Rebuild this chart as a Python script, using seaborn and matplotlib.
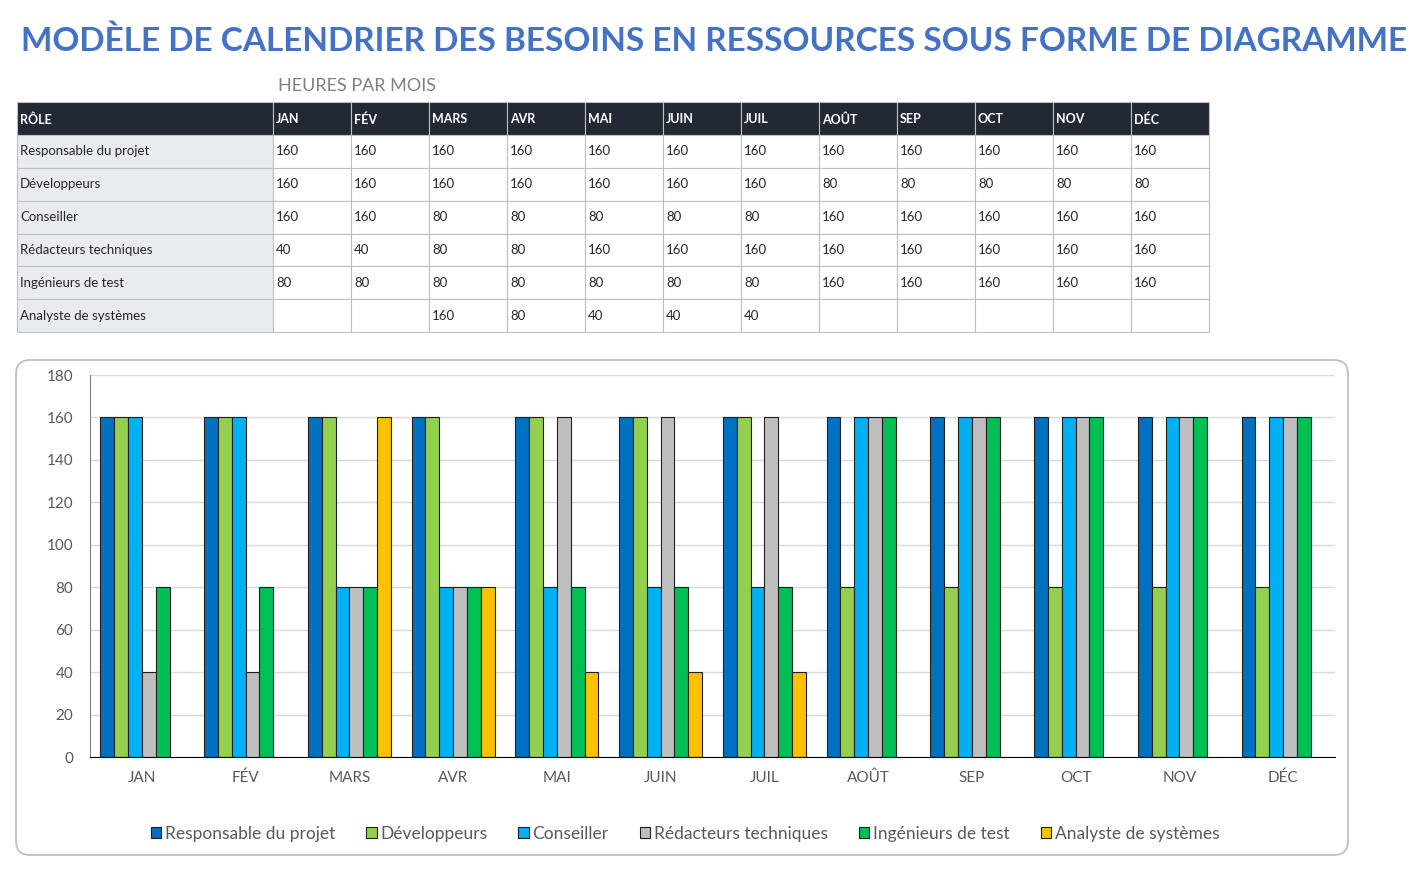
import numpy as np
import pandas as pd
import seaborn as sns
from matplotlib import pyplot as plt
from matplotlib.patches import Rectangle, FancyBboxPatch

months = ["JAN", "FÉV", "MARS", "AVR", "MAI", "JUIN", "JUIL", "AOÛT", "SEP", "OCT", "NOV", "DÉC"]
roles = ["Responsable du projet", "Développeurs", "Conseiller",
         "Rédacteurs techniques", "Ingénieurs de test", "Analyste de systèmes"]
responsable = [160, 160, 160, 160, 160, 160, 160, 160, 160, 160, 160, 160]
developpeurs = [160, 160, 160, 160, 160, 160, 160, 80, 80, 80, 80, 80]
conseiller = [160, 160, 80, 80, 80, 80, 80, 160, 160, 160, 160, 160]
redacteurs = [40, 40, 80, 80, 160, 160, 160, 160, 160, 160, 160, 160]
ingenieurs = [80, 80, 80, 80, 80, 80, 80, 160, 160, 160, 160, 160]
analyste = [None, None, 160, 80, 40, 40, 40, None, None, None, None, None]
colors = ["#0070C0", "#92D050", "#00B0F0", "#BFBFBF", "#00BF55", "#FFC000"]

series = [responsable, developpeurs, conseiller, redacteurs, ingenieurs, analyste]
rows = []
for role, vals in zip(roles, series):
    for m, v in zip(months, vals):
        rows.append({"mois": m, "role": role, "heures": v})
df = pd.DataFrame(rows)

sns.set_style("white")
plt.rcParams['font.family'] = ['Lato', 'DejaVu Sans']

fig = plt.figure(figsize=(14.28, 8.8), dpi=100)

# background layer in pixel coordinates (title, table, chart frame)
bg = fig.add_axes([0, 0, 1, 1])
bg.set_xlim(0, 1428)
bg.set_ylim(880, 0)
bg.axis('off')

bg.text(714, 41, "MODÈLE DE CALENDRIER DES BESOINS EN RESSOURCES SOUS FORME DE DIAGRAMME",
        ha='center', va='center', fontsize=24, fontweight='bold', color='#4472C4')
bg.text(278, 86, "HEURES PAR MOIS", ha='left', va='center', fontsize=13,
        color='#808080')

# table
col_edges = [17] + [273 + 78 * i for i in range(13)]
row_top = 102
row_h = 32.9
header = ["RÔLE"] + months
for j in range(13):
    x0, x1 = col_edges[j], col_edges[j + 1]
    bg.add_patch(Rectangle((x0, row_top), x1 - x0, row_h, facecolor='#222834',
                           edgecolor='#BFBFBF', lw=0.8))
    bg.text(x0 + 3, row_top + row_h / 2 + 1, header[j], ha='left', va='center',
            fontsize=9, fontweight='bold', color='white')
for i, (role, vals) in enumerate(zip(roles, series)):
    y0 = row_top + row_h * (i + 1)
    cells = [role] + ["" if v is None else str(v) for v in vals]
    for j in range(13):
        x0, x1 = col_edges[j], col_edges[j + 1]
        fc = '#E8EBF0' if j == 0 else 'white'
        bg.add_patch(Rectangle((x0, y0), x1 - x0, row_h, facecolor=fc,
                               edgecolor='#BFBFBF', lw=0.8))
        bg.text(x0 + 3, y0 + row_h / 2, cells[j], ha='left', va='center',
                fontsize=9.5, color='#262626')

# chart frame
bg.add_patch(FancyBboxPatch((16, 360), 1332, 495, boxstyle="round,pad=0,rounding_size=14",
                            facecolor='white', edgecolor='#BFBFBF', lw=1.3))

ax = fig.add_axes([90 / 1428, 1 - 757 / 880, (1335 - 90) / 1428, (757 - 375) / 880])
sns.barplot(data=df.dropna(), x="mois", y="heures", hue="role", order=months,
            hue_order=roles, palette=colors, saturation=1, edgecolor='#1f1f1f',
            linewidth=0.8, errorbar=None, width=0.8, ax=ax)
ax.set_ylim(0, 180)
ax.set_yticks(range(0, 181, 20))
ax.set_xlabel('')
ax.set_ylabel('')
ax.yaxis.grid(True, color='#D9D9D9', lw=1)
ax.set_axisbelow(True)
for s in ['top', 'right']:
    ax.spines[s].set_visible(False)
ax.spines['left'].set_color('#808080')
ax.spines['bottom'].set_color('black')
ax.tick_params(axis='both', length=0, labelsize=11, labelcolor='#595959')
ax.tick_params(axis='y', pad=12)
ax.tick_params(axis='x', pad=10)

handles, labels = ax.get_legend_handles_labels()
ax.get_legend().remove()
fig.legend(handles, labels, loc='center', bbox_to_anchor=(685 / 1428, 1 - 834 / 880), ncol=6,
           frameon=False, fontsize=12.5, labelcolor='#595959', handlelength=0.6,
           handleheight=0.6, handletextpad=0.2, columnspacing=1.8)

plt.savefig('out.png', dpi=100)
plt.close()
